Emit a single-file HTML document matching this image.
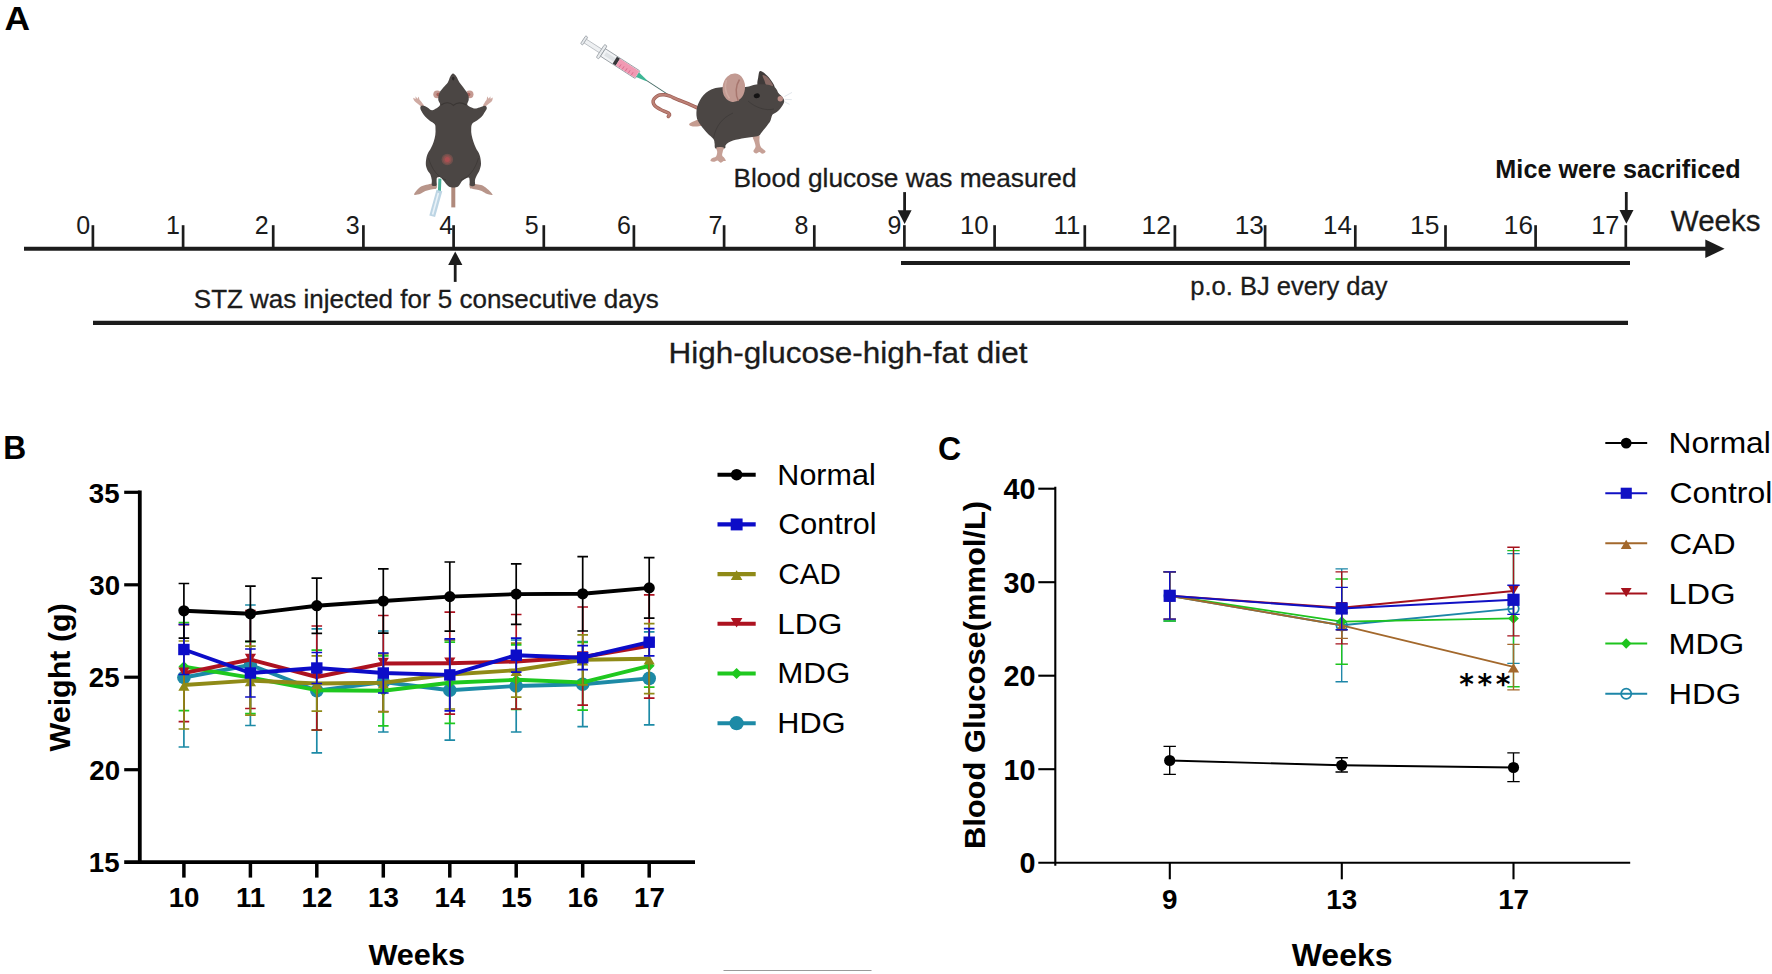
<!DOCTYPE html>
<html lang="en"><head><meta charset="utf-8"><title>Figure</title>
<style>
html,body{margin:0;padding:0;background:#fff;}
body{width:1772px;height:974px;overflow:hidden;}
svg{display:block;}
text{font-family:"Liberation Sans", Arial, Helvetica, sans-serif;fill:#111;}
.tl{font-size:25px;fill:#1a1a1a;}
.b{font-weight:bold;fill:#000;}
</style></head><body>
<svg width="1772" height="974" viewBox="0 0 1772 974">
<rect x="0" y="0" width="1772" height="974" fill="#ffffff"/>
<text transform="translate(4.52,29.90) scale(1.0719,1)" font-size="33.00" font-weight="bold" style="fill:#000">A</text>
<text transform="translate(3.23,459.00) scale(0.9846,1)" font-size="32.30" font-weight="bold" style="fill:#000">B</text>
<text transform="translate(938.02,460.00) scale(0.9570,1)" font-size="33.50" font-weight="bold" style="fill:#000">C</text>
<g stroke="#1c1c1c" fill="none">
<line x1="24" y1="248.8" x2="1708" y2="248.8" stroke-width="4.1"/>
<line x1="901" y1="263" x2="1630" y2="263" stroke-width="3.9"/>
<line x1="93" y1="322.9" x2="1628" y2="322.9" stroke-width="4.2"/>
<line x1="92.9" y1="225.2" x2="92.9" y2="248" stroke-width="2.7"/>
<line x1="183.1" y1="225.2" x2="183.1" y2="248" stroke-width="2.7"/>
<line x1="273.2" y1="225.2" x2="273.2" y2="248" stroke-width="2.7"/>
<line x1="363.4" y1="225.2" x2="363.4" y2="248" stroke-width="2.7"/>
<line x1="453.6" y1="225.2" x2="453.6" y2="248" stroke-width="2.7"/>
<line x1="543.8" y1="225.2" x2="543.8" y2="248" stroke-width="2.7"/>
<line x1="633.9" y1="225.2" x2="633.9" y2="248" stroke-width="2.7"/>
<line x1="724.1" y1="225.2" x2="724.1" y2="248" stroke-width="2.7"/>
<line x1="814.3" y1="225.2" x2="814.3" y2="248" stroke-width="2.7"/>
<line x1="904.4" y1="225.2" x2="904.4" y2="248" stroke-width="2.7"/>
<line x1="994.6" y1="225.2" x2="994.6" y2="248" stroke-width="2.7"/>
<line x1="1084.8" y1="225.2" x2="1084.8" y2="248" stroke-width="2.7"/>
<line x1="1174.9" y1="225.2" x2="1174.9" y2="248" stroke-width="2.7"/>
<line x1="1265.1" y1="225.2" x2="1265.1" y2="248" stroke-width="2.7"/>
<line x1="1355.3" y1="225.2" x2="1355.3" y2="248" stroke-width="2.7"/>
<line x1="1445.5" y1="225.2" x2="1445.5" y2="248" stroke-width="2.7"/>
<line x1="1535.6" y1="225.2" x2="1535.6" y2="248" stroke-width="2.7"/>
<line x1="1625.8" y1="225.2" x2="1625.8" y2="248" stroke-width="2.7"/>
<line x1="455.2" y1="262" x2="455.2" y2="281.9" stroke-width="2.8"/>
<line x1="904.6" y1="192.1" x2="904.6" y2="212" stroke-width="2.8"/>
<line x1="1626.3" y1="192" x2="1626.3" y2="212" stroke-width="2.8"/>
</g>
<g fill="#1c1c1c">
<polygon points="1705.3,239.6 1724.6,248.8 1705.3,258"/>
<polygon points="455.2,251.4 462.4,265.1 448.2,265.1"/>
<polygon points="904.6,223.9 897.6,210.2 911.6,210.2"/>
<polygon points="1626.4,223.7 1619.5,209.9 1633.5,209.9"/>
</g>
<text x="76.30" y="233.80" font-size="25.00" style="fill:#1b1b1b">0</text>
<text x="165.95" y="233.80" font-size="25.00" style="fill:#1b1b1b">1</text>
<text x="254.77" y="233.80" font-size="25.00" style="fill:#1b1b1b">2</text>
<text x="345.82" y="233.80" font-size="25.00" style="fill:#1b1b1b">3</text>
<text x="439.27" y="233.80" font-size="25.00" style="fill:#1b1b1b">4</text>
<text x="524.83" y="233.80" font-size="25.00" style="fill:#1b1b1b">5</text>
<text x="617.02" y="233.80" font-size="25.00" style="fill:#1b1b1b">6</text>
<text x="708.38" y="233.80" font-size="25.00" style="fill:#1b1b1b">7</text>
<text x="794.52" y="233.80" font-size="25.00" style="fill:#1b1b1b">8</text>
<text x="887.55" y="233.80" font-size="25.00" style="fill:#1b1b1b">9</text>
<text transform="translate(959.96,233.80) scale(1.0320,1)" font-size="25.00" style="fill:#1b1b1b">10</text>
<text transform="translate(1053.57,233.80) scale(1.0317,1)" font-size="25.00" style="fill:#1b1b1b">11</text>
<text transform="translate(1141.61,233.80) scale(1.0599,1)" font-size="25.00" style="fill:#1b1b1b">12</text>
<text transform="translate(1234.73,233.80) scale(1.0492,1)" font-size="25.00" style="fill:#1b1b1b">13</text>
<text transform="translate(1322.95,233.80) scale(1.0388,1)" font-size="25.00" style="fill:#1b1b1b">14</text>
<text transform="translate(1410.02,233.80) scale(1.0573,1)" font-size="25.00" style="fill:#1b1b1b">15</text>
<text transform="translate(1503.83,233.80) scale(1.0492,1)" font-size="25.00" style="fill:#1b1b1b">16</text>
<text transform="translate(1591.30,233.80) scale(1.0112,1)" font-size="25.00" style="fill:#1b1b1b">17</text>
<text transform="translate(193.83,307.50) scale(1.0396,1)" font-size="25.00" style="fill:#1b1b1b;stroke:#1b1b1b;stroke-width:0.3px">STZ was injected for 5 consecutive days</text>
<text transform="translate(733.50,186.70) scale(1.0512,1)" font-size="25.00" style="fill:#1b1b1b;stroke:#1b1b1b;stroke-width:0.3px">Blood glucose was measured</text>
<text transform="translate(1190.34,295.00) scale(1.0209,1)" font-size="25.00" style="fill:#1b1b1b;stroke:#1b1b1b;stroke-width:0.3px">p.o. BJ every day</text>
<text transform="translate(668.48,362.80) scale(1.0507,1)" font-size="30.00" style="fill:#1b1b1b;stroke:#1b1b1b;stroke-width:0.3px">High-glucose-high-fat diet</text>
<text transform="translate(1670.85,231.10) scale(0.9844,1)" font-size="30.00" style="fill:#1b1b1b;stroke:#1b1b1b;stroke-width:0.3px">Weeks</text>
<text transform="translate(1495.36,177.50) scale(0.9891,1)" font-size="25.50" font-weight="bold" style="fill:#111">Mice were sacrificed</text>
<g id="mouse1">
<path d="M453.3,185 L453.3,207.4" stroke="#b08a7c" stroke-width="4" fill="none"/>
<path d="M439.9,178.6 L439.4,191" stroke="#46b098" stroke-width="3" fill="none"/>
<path d="M439.4,190.5 L432.2,216.2" stroke="#bdd5e4" stroke-width="6" fill="none"/>
<path d="M438.4,193 L432.6,214.5" stroke="#e9f2f8" stroke-width="1.6" fill="none"/>
<path d="M436.0,183.8 C434.6,183.1 430.4,184.0 428.0,184.4 C425.6,184.8 423.3,185.3 421.5,186.2 C419.7,187.1 418.2,188.6 417.0,190.0 C415.8,191.4 413.9,193.7 414.0,194.5 C414.1,195.3 416.3,194.8 417.5,194.6 C418.7,194.4 419.7,194.0 421.0,193.4 C422.3,192.8 423.7,191.7 425.4,191.0 C427.1,190.3 429.2,189.8 431.0,189.4 C432.8,189.0 435.6,189.5 436.4,188.6 C437.2,187.7 437.4,184.5 436.0,183.8 Z" fill="#b8958a"/>
<path d="M470.0,183.8 C471.0,183.1 474.4,183.9 476.5,184.2 C478.6,184.5 480.7,184.7 482.6,185.6 C484.5,186.5 486.3,187.9 488.0,189.4 C489.7,190.9 492.4,193.6 492.6,194.5 C492.8,195.4 490.2,194.8 489.0,194.6 C487.8,194.4 486.7,193.8 485.4,193.2 C484.1,192.6 482.6,191.4 481.0,190.8 C479.4,190.2 477.8,189.8 476.0,189.4 C474.2,189.0 471.4,189.5 470.4,188.6 C469.4,187.7 469.0,184.5 470.0,183.8 Z" fill="#b8958a"/>
<path d="M421.6,106.6 C420.6,106.3 419.2,104.9 418.0,104.0 C416.8,103.1 415.3,102.0 414.5,101.0 C413.7,100.0 413.1,98.2 413.3,97.9 C413.5,97.6 415.1,99.2 415.5,99.0 C415.9,98.8 415.3,96.6 415.6,96.6 C415.9,96.6 417.0,98.8 417.5,98.8 C418.0,98.8 418.2,96.6 418.6,96.8 C419.0,97.0 419.1,98.9 419.6,99.8 C420.1,100.7 420.8,101.0 421.5,102.0 C422.2,103.0 424.0,105.0 424.0,105.8 C424.0,106.6 422.6,106.9 421.6,106.6 Z" fill="#cfaaa2"/>
<path d="M485.0,106.6 C485.9,106.3 487.3,104.9 488.5,104.0 C489.7,103.1 491.3,102.1 492.0,101.0 C492.7,99.9 492.8,98.0 492.6,97.6 C492.4,97.2 491.0,99.0 490.6,98.8 C490.2,98.6 490.7,96.4 490.4,96.4 C490.1,96.4 489.1,98.6 488.6,98.6 C488.1,98.6 487.7,96.4 487.4,96.6 C487.1,96.8 487.0,98.9 486.6,99.8 C486.2,100.7 485.6,101.0 485.0,102.0 C484.4,103.0 483.0,105.0 483.0,105.8 C483.0,106.6 484.1,106.9 485.0,106.6 Z" fill="#cfaaa2"/>
<circle cx="437.2" cy="94.3" r="3.9" fill="#c59a92"/>
<circle cx="469.6" cy="94.3" r="3.9" fill="#c59a92"/>
<circle cx="438.2" cy="94.6" r="1.8" fill="#a9615a"/>
<circle cx="468.6" cy="94.6" r="1.8" fill="#a9615a"/>
<path d="M453.0,73.6 C454.0,73.6 455.2,75.0 456.3,76.5 C457.4,78.0 458.4,80.8 459.5,82.5 C460.6,84.2 461.9,85.5 463.0,87.0 C464.1,88.5 465.2,89.8 466.1,91.2 C467.0,92.6 468.0,94.0 468.4,95.5 C468.8,97.0 468.9,98.3 468.7,99.9 C468.5,101.5 466.5,103.7 467.4,105.1 C468.3,106.5 471.9,108.0 473.9,108.4 C475.9,108.8 477.7,107.8 479.5,107.4 C481.3,107.0 483.6,105.7 484.8,105.8 C486.0,105.9 486.9,107.1 486.8,108.2 C486.8,109.3 485.3,111.1 484.5,112.5 C483.7,113.9 483.1,115.2 481.8,116.5 C480.6,117.8 478.6,119.3 477.0,120.5 C475.4,121.7 473.2,122.4 472.2,123.8 C471.2,125.2 471.3,127.1 471.2,129.0 C471.1,130.9 471.2,132.8 471.6,135.0 C472.0,137.2 472.8,139.8 473.5,142.0 C474.2,144.2 474.9,145.9 475.9,148.1 C476.9,150.3 478.8,152.4 479.6,155.0 C480.5,157.6 481.0,161.3 481.0,163.8 C481.0,166.3 480.2,168.2 479.6,170.0 C479.0,171.8 478.2,172.6 477.4,174.3 C476.6,176.0 475.4,178.2 475.0,180.0 C474.6,181.8 475.6,184.5 474.8,185.4 C474.0,186.3 470.9,186.4 470.0,185.6 C469.1,184.8 469.9,181.8 469.6,180.5 C469.4,179.2 469.7,177.6 468.5,177.6 C467.3,177.6 464.3,179.1 462.6,180.6 C460.9,182.1 459.9,185.1 458.4,186.3 C456.9,187.5 455.1,187.6 453.4,187.6 C451.7,187.6 450.1,187.5 448.4,186.3 C446.7,185.1 444.7,182.1 443.4,180.6 C442.1,179.1 441.6,177.7 440.6,177.2 C439.6,176.7 437.9,177.0 437.2,177.6 C436.5,178.2 436.7,179.7 436.6,181.0 C436.5,182.3 437.2,184.9 436.4,185.6 C435.6,186.3 432.8,186.3 432.0,185.4 C431.2,184.5 432.1,181.8 431.8,180.0 C431.5,178.2 431.0,176.0 430.3,174.3 C429.6,172.6 428.1,171.8 427.4,170.0 C426.6,168.2 425.8,166.3 425.8,163.8 C425.8,161.3 426.3,157.6 427.2,155.0 C428.1,152.4 429.9,150.3 431.0,148.1 C432.1,145.9 432.9,144.2 433.6,142.0 C434.3,139.8 435.0,137.2 435.3,135.0 C435.6,132.8 435.6,130.8 435.5,129.0 C435.4,127.2 435.7,125.7 434.7,124.3 C433.7,122.9 431.1,121.8 429.5,120.5 C427.9,119.2 426.3,117.8 425.1,116.5 C423.9,115.2 423.0,113.9 422.2,112.5 C421.4,111.1 420.3,109.2 420.3,108.0 C420.3,106.8 421.0,105.7 422.2,105.6 C423.4,105.5 425.8,106.6 427.5,107.4 C429.2,108.2 430.4,110.6 432.5,110.2 C434.6,109.8 438.9,107.0 439.9,105.3 C440.9,103.6 438.5,101.5 438.3,99.9 C438.1,98.3 438.3,97.0 438.6,95.5 C438.9,94.0 439.4,92.6 440.3,91.2 C441.2,89.8 442.6,88.5 443.8,87.0 C445.1,85.5 446.7,84.2 447.8,82.5 C448.9,80.8 449.4,78.0 450.3,76.5 C451.2,75.0 452.0,73.6 453.0,73.6 Z" fill="#4b4644"/>
<path d="M441,105 C446,101.8 450.5,102.6 453.4,105.4 C456.4,102.6 461,101.8 466.5,105" stroke="#3a3634" stroke-width="1.1" fill="none"/>
<path d="M428.5,158 C432,170 438,177 446,180" stroke="#3a3634" stroke-width="0.9" fill="none" opacity="0.8"/>
<path d="M478.5,158 C475,170 469,177 461,180" stroke="#3a3634" stroke-width="0.9" fill="none" opacity="0.8"/>
<ellipse cx="453.2" cy="78.6" rx="1.3" ry="1.8" fill="#2b2827"/>
<circle cx="447.3" cy="159.5" r="5.8" fill="#6f504c"/>
<circle cx="447.3" cy="159.5" r="4.2" fill="#8c524f"/>
<circle cx="447.3" cy="159.5" r="2.5" fill="#ad4f52"/>
</g>
<g id="mouse2">
<g transform="translate(584.2,40.4) rotate(32.79)">
<rect x="-1.3" y="-4.8" width="2.6" height="9.6" rx="1.1" fill="#e6e9ec" stroke="#8f969c" stroke-width="0.7"/>
<rect x="1.3" y="-2.2" width="20" height="4.4" fill="#eef0f2" stroke="#9fa5ab" stroke-width="0.6"/>
<rect x="19.3" y="-7.8" width="3" height="15.6" rx="1.3" fill="#e9ecee" stroke="#8f969c" stroke-width="0.7"/>
<rect x="22.3" y="-4.5" width="41.2" height="9" rx="0.8" fill="#f1f3f5" stroke="#8f969c" stroke-width="0.8"/>
<rect x="25" y="-2" width="11" height="4" fill="#dfe3e6"/>
<rect x="36.4" y="-3.9" width="3.7" height="7.8" fill="#37373a"/>
<rect x="40.1" y="-3.9" width="22.8" height="7.8" fill="#f19ab3"/>
<line x1="44.0" y1="0.2" x2="44.0" y2="3.9" stroke="#d46a8b" stroke-width="0.8"/>
<line x1="47.6" y1="0.2" x2="47.6" y2="3.9" stroke="#d46a8b" stroke-width="0.8"/>
<line x1="51.2" y1="0.2" x2="51.2" y2="3.9" stroke="#d46a8b" stroke-width="0.8"/>
<line x1="54.8" y1="0.2" x2="54.8" y2="3.9" stroke="#d46a8b" stroke-width="0.8"/>
<line x1="58.4" y1="0.2" x2="58.4" y2="3.9" stroke="#d46a8b" stroke-width="0.8"/>
<polygon points="63.5,-2.7 74.4,-0.6 74.4,0.6 63.5,2.7" fill="#3fb796"/>
<line x1="74" y1="0" x2="99" y2="0" stroke="#4a6e68" stroke-width="0.9"/>
</g>
<path d="M697.5,108.0 C695.9,107.3 691.3,105.0 688.0,103.6 C684.7,102.2 680.7,100.8 677.7,99.6 C674.7,98.4 672.2,97.0 670.0,96.2 C667.8,95.4 666.0,95.0 664.3,94.8 C662.5,94.6 660.9,94.7 659.5,95.0 C658.1,95.3 657.1,96.1 656.1,96.9 C655.1,97.7 654.1,98.6 653.6,99.6 C653.1,100.5 653.0,101.6 653.2,102.6 C653.4,103.6 654.0,104.6 654.6,105.4 C655.2,106.2 656.0,106.9 657.1,107.6 C658.2,108.3 659.6,109.1 661.0,109.8 C662.4,110.5 664.0,111.0 665.3,111.6 C666.6,112.2 667.9,112.6 668.6,113.2 C669.3,113.8 669.7,114.5 669.6,115.0 C669.5,115.5 668.5,116.2 668.3,116.5" stroke="#9d5f56" stroke-width="3.5" fill="none" stroke-linecap="round"/>
<path d="M697.5,108.0 C695.9,107.3 691.3,105.0 688.0,103.6 C684.7,102.2 680.7,100.8 677.7,99.6 C674.7,98.4 672.2,97.0 670.0,96.2 C667.8,95.4 666.0,95.0 664.3,94.8 C662.5,94.6 660.9,94.7 659.5,95.0 C658.1,95.3 657.1,96.1 656.1,96.9 C655.1,97.7 654.1,98.6 653.6,99.6 C653.1,100.5 653.0,101.6 653.2,102.6 C653.4,103.6 654.0,104.6 654.6,105.4 C655.2,106.2 656.0,106.9 657.1,107.6 C658.2,108.3 659.6,109.1 661.0,109.8 C662.4,110.5 664.0,111.0 665.3,111.6 C666.6,112.2 667.9,112.6 668.6,113.2 C669.3,113.8 669.7,114.5 669.6,115.0 C669.5,115.5 668.5,116.2 668.3,116.5" stroke="#bd8176" stroke-width="2.1" fill="none" stroke-linecap="round"/>
<path d="M699.0,119.6 C697.7,119.0 695.6,120.5 694.0,121.2 C692.4,121.9 689.7,123.2 689.2,124.0 C688.7,124.8 690.0,125.6 691.0,126.0 C692.0,126.4 693.7,126.6 695.0,126.6 C696.3,126.6 697.8,126.5 699.0,126.2 C700.2,125.9 702.0,126.1 702.0,125.0 C702.0,123.9 700.3,120.2 699.0,119.6 Z" fill="#c59c90"/>
<path d="M752.8,136.0 C752.0,137.2 754.0,140.2 754.5,142.0 C755.0,143.8 755.7,145.5 755.5,147.0 C755.3,148.5 753.3,150.1 753.4,151.2 C753.5,152.3 755.2,153.3 756.2,153.4 C757.2,153.5 758.4,151.9 759.4,152.0 C760.4,152.1 761.5,153.9 762.5,153.8 C763.5,153.7 765.6,152.5 765.6,151.6 C765.6,150.7 763.3,149.5 762.4,148.6 C761.5,147.7 760.9,147.3 760.4,146.0 C759.9,144.7 759.6,142.8 759.4,141.0 C759.2,139.2 760.1,135.8 759.0,135.0 C757.9,134.2 753.5,134.8 752.8,136.0 Z" fill="#c6a096"/>
<path d="M760.2,71.0 C758.7,71.3 758.7,75.2 758.2,77.5 C757.7,79.8 757.1,82.6 757.4,84.5 C757.7,86.4 758.2,88.1 760.0,89.0 C761.8,89.9 765.6,90.2 768.0,90.0 C770.4,89.8 773.7,88.8 774.4,87.5 C775.1,86.2 773.4,84.0 772.2,82.0 C771.0,80.0 769.0,77.3 767.0,75.5 C765.0,73.7 761.7,70.7 760.2,71.0 Z" fill="#403b3a"/>
<path d="M762.6,75.2 C762.2,75.9 763.7,78.8 764.4,80.5 C765.1,82.2 765.2,84.5 766.6,85.5 C768.0,86.5 772.3,87.2 773.0,86.4 C773.7,85.7 771.7,82.6 770.6,81.0 C769.5,79.4 767.9,77.6 766.6,76.6 C765.3,75.6 763.0,74.5 762.6,75.2 Z" fill="#8a6b66"/>
<path d="M696.4,113.1 C696.4,111.3 696.6,109.2 697.0,107.5 C697.4,105.8 697.8,104.6 698.6,102.9 C699.4,101.2 700.4,99.1 701.6,97.4 C702.8,95.7 704.4,94.0 706.0,92.7 C707.6,91.4 709.3,90.3 711.2,89.5 C713.1,88.7 714.8,88.1 717.3,87.7 C719.8,87.3 722.9,87.0 726.0,87.0 C729.1,87.0 732.8,88.0 736.0,88.0 C739.2,88.0 742.8,87.5 745.5,87.1 C748.2,86.7 749.9,85.9 752.0,85.4 C754.1,84.9 755.6,84.4 757.9,84.3 C760.2,84.2 763.4,84.2 766.0,84.6 C768.6,85.0 771.9,85.8 773.7,86.6 C775.5,87.4 775.9,88.5 776.6,89.5 C777.4,90.5 777.5,91.7 778.2,92.7 C778.9,93.7 780.1,94.5 781.0,95.4 C781.9,96.4 782.9,97.5 783.4,98.4 C783.9,99.3 784.2,100.2 784.2,101.0 C784.2,101.8 784.1,102.2 783.7,103.2 C783.3,104.2 782.3,105.7 781.6,106.8 C780.9,107.9 780.2,108.8 779.3,109.7 C778.4,110.6 777.1,111.6 776.0,112.4 C774.9,113.2 773.4,113.5 772.6,114.4 C771.8,115.3 771.8,116.5 771.4,117.6 C771.0,118.7 771.0,119.6 770.3,121.0 C769.6,122.4 768.1,124.3 767.0,125.8 C765.9,127.3 764.5,128.8 763.5,130.0 C762.5,131.2 761.8,132.2 761.0,133.2 C760.2,134.2 760.1,135.2 758.6,135.8 C757.1,136.4 754.5,136.6 752.2,137.0 C749.9,137.4 747.2,137.6 745.0,138.0 C742.8,138.4 740.7,138.8 738.7,139.2 C736.7,139.6 734.7,140.0 733.0,140.6 C731.3,141.2 729.7,141.8 728.5,142.6 C727.3,143.4 726.2,144.3 725.6,145.2 C725.0,146.1 725.9,147.6 725.0,148.2 C724.1,148.8 721.6,148.8 720.0,148.8 C718.4,148.8 716.1,149.1 715.2,148.2 C714.3,147.3 714.9,145.0 714.6,143.5 C714.3,142.0 714.6,140.7 713.4,139.0 C712.2,137.3 709.4,135.4 707.6,133.5 C705.8,131.6 704.0,129.4 702.6,127.7 C701.2,126.0 700.2,124.6 699.2,123.0 C698.2,121.4 697.4,119.9 696.9,118.2 C696.4,116.5 696.4,114.9 696.4,113.1 Z" fill="#4b4644"/>
<path d="M713.5,138 C716,126 722,118 733,113" stroke="#3a3634" stroke-width="0.9" fill="none" opacity="0.7"/>
<path d="M748,101 C756,108 766,111 774,109" stroke="#3a3634" stroke-width="0.9" fill="none" opacity="0.7"/>
<path d="M716.6,147.6 C715.5,148.3 717.3,150.5 717.2,152.0 C717.1,153.5 716.9,155.3 716.0,156.4 C715.1,157.5 712.5,157.6 711.6,158.4 C710.7,159.2 710.1,160.4 710.6,161.0 C711.1,161.6 713.2,161.9 714.4,161.8 C715.6,161.7 716.6,160.4 717.6,160.6 C718.6,160.8 719.6,162.7 720.6,162.8 C721.6,162.9 722.7,161.3 723.6,161.0 C724.5,160.7 725.7,161.3 725.8,160.8 C725.9,160.3 725.0,158.9 724.4,158.0 C723.8,157.1 722.5,156.7 722.2,155.6 C721.9,154.5 722.6,152.8 722.8,151.5 C723.0,150.2 724.6,148.2 723.6,147.6 C722.6,146.9 717.7,146.9 716.6,147.6 Z" fill="#c6a096"/>
<ellipse cx="733.8" cy="87.8" rx="11.2" ry="14.3" transform="rotate(7 733.8 87.8)" fill="#c29a92"/>
<path d="M739.5,79.5 C735.6,85.5 735,94 738.4,101" stroke="#a7766e" stroke-width="1.5" fill="none"/>
<path d="M726.5,80 C724.5,86 725.4,93 729.5,98.5" stroke="#d3b0a8" stroke-width="1.6" fill="none" opacity="0.7"/>
<ellipse cx="756.8" cy="95.7" rx="3.1" ry="2.4" transform="rotate(-15 756.8 95.7)" fill="#151414"/>
<circle cx="780.3" cy="98.8" r="2.7" fill="#bb8d86"/>
<path d="M784.4,96.6 L792,92.4 M784.8,99.4 L791.8,99.6 M784.2,101.6 L789.6,104.4" stroke="#d5dde4" stroke-width="0.7" fill="none"/>
</g>
<g id="chartB">
<g stroke="#000" fill="none" stroke-width="3.8">
<path d="M139.8,490.5 V864"/>
<path d="M124.2,862.2 H695"/>
</g>
<g stroke="#000" fill="none" stroke-width="3.5">
<path d="M124.2,492.3 H140" stroke-width="3.2"/>
<path d="M124.2,584.8 H140" stroke-width="3.2"/>
<path d="M124.2,677.2 H140" stroke-width="3.2"/>
<path d="M124.2,769.7 H140" stroke-width="3.2"/>
<path d="M183.9,862 V877.6"/>
<path d="M250.4,862 V877.6"/>
<path d="M316.8,862 V877.6"/>
<path d="M383.3,862 V877.6"/>
<path d="M449.8,862 V877.6"/>
<path d="M516.2,862 V877.6"/>
<path d="M582.7,862 V877.6"/>
<path d="M649.2,862 V877.6"/>
</g>
<text x="88.85" y="502.50" font-size="27.70" font-weight="bold" style="fill:#000">35</text>
<text x="89.26" y="594.95" font-size="27.70" font-weight="bold" style="fill:#000">30</text>
<text x="88.85" y="687.40" font-size="27.70" font-weight="bold" style="fill:#000">25</text>
<text x="89.26" y="779.85" font-size="27.70" font-weight="bold" style="fill:#000">20</text>
<text x="88.85" y="872.30" font-size="27.70" font-weight="bold" style="fill:#000">15</text>
<text class="b" x="184.1" y="907.1" text-anchor="middle" font-size="27.7">10</text>
<text class="b" x="250.6" y="907.1" text-anchor="middle" font-size="27.7">11</text>
<text class="b" x="317.0" y="907.1" text-anchor="middle" font-size="27.7">12</text>
<text class="b" x="383.5" y="907.1" text-anchor="middle" font-size="27.7">13</text>
<text class="b" x="450.0" y="907.1" text-anchor="middle" font-size="27.7">14</text>
<text class="b" x="516.5" y="907.1" text-anchor="middle" font-size="27.7">15</text>
<text class="b" x="582.9" y="907.1" text-anchor="middle" font-size="27.7">16</text>
<text class="b" x="649.4" y="907.1" text-anchor="middle" font-size="27.7">17</text>
<text transform="translate(368.40,964.70) scale(1.0225,1)" font-size="30.00" font-weight="bold" style="fill:#000">Weeks</text>
<text transform="translate(70,751.5) rotate(-90) translate(0.00,0.00) scale(1.0159,1)" font-size="30.00" font-weight="bold" style="fill:#000">Weight (g)</text>
<g id="B-HDG">
<path d="M183.9,609.5 V747.0 M178.6,609.5 H189.2 M178.6,747.0 H189.2" stroke="#1d8aa6" stroke-width="1.70" fill="none"/>
<path d="M250.4,605.0 V725.5 M245.1,605.0 H255.7 M245.1,725.5 H255.7" stroke="#1d8aa6" stroke-width="1.70" fill="none"/>
<path d="M316.8,628.8 V752.8 M311.5,628.8 H322.1 M311.5,752.8 H322.1" stroke="#1d8aa6" stroke-width="1.70" fill="none"/>
<path d="M383.3,631.0 V732.0 M378.0,631.0 H388.6 M378.0,732.0 H388.6" stroke="#1d8aa6" stroke-width="1.70" fill="none"/>
<path d="M449.8,640.2 V740.2 M444.5,640.2 H455.1 M444.5,740.2 H455.1" stroke="#1d8aa6" stroke-width="1.70" fill="none"/>
<path d="M516.2,640.0 V732.0 M510.9,640.0 H521.5 M510.9,732.0 H521.5" stroke="#1d8aa6" stroke-width="1.70" fill="none"/>
<path d="M582.7,641.7 V726.7 M577.4,641.7 H588.0 M577.4,726.7 H588.0" stroke="#1d8aa6" stroke-width="1.70" fill="none"/>
<path d="M649.2,631.9 V724.9 M643.9,631.9 H654.5 M643.9,724.9 H654.5" stroke="#1d8aa6" stroke-width="1.70" fill="none"/>
<polyline points="183.9,677.5 250.4,665.0 316.8,690.8 383.3,682.0 449.8,690.2 516.2,686.0 582.7,684.2 649.2,678.4" fill="none" stroke="#1d8aa6" stroke-width="3.9" stroke-linejoin="round"/>
<circle cx="183.9" cy="677.5" r="6.8" fill="#1d8aa6"/>
<circle cx="250.4" cy="665.0" r="6.8" fill="#1d8aa6"/>
<circle cx="316.8" cy="690.8" r="6.8" fill="#1d8aa6"/>
<circle cx="383.3" cy="682.0" r="6.8" fill="#1d8aa6"/>
<circle cx="449.8" cy="690.2" r="6.8" fill="#1d8aa6"/>
<circle cx="516.2" cy="686.0" r="6.8" fill="#1d8aa6"/>
<circle cx="582.7" cy="684.2" r="6.8" fill="#1d8aa6"/>
<circle cx="649.2" cy="678.4" r="6.8" fill="#1d8aa6"/>
</g>
<g id="B-MDG">
<path d="M183.9,622.6 V710.6 M178.6,622.6 H189.2 M178.6,710.6 H189.2" stroke="#1fc81f" stroke-width="1.70" fill="none"/>
<path d="M250.4,641.6 V713.6 M245.1,641.6 H255.7 M245.1,713.6 H255.7" stroke="#1fc81f" stroke-width="1.70" fill="none"/>
<path d="M316.8,650.2 V730.2 M311.5,650.2 H322.1 M311.5,730.2 H322.1" stroke="#1fc81f" stroke-width="1.70" fill="none"/>
<path d="M383.3,655.8 V725.8 M378.0,655.8 H388.6 M378.0,725.8 H388.6" stroke="#1fc81f" stroke-width="1.70" fill="none"/>
<path d="M449.8,642.2 V723.4 M444.5,642.2 H455.1 M444.5,723.4 H455.1" stroke="#1fc81f" stroke-width="1.70" fill="none"/>
<path d="M516.2,644.8 V709.4 M510.9,644.8 H521.5 M510.9,709.4 H521.5" stroke="#1fc81f" stroke-width="1.70" fill="none"/>
<path d="M582.7,642.4 V710.2 M577.4,642.4 H588.0 M577.4,710.2 H588.0" stroke="#1fc81f" stroke-width="1.70" fill="none"/>
<path d="M649.2,641.8 V687.2 M643.9,641.8 H654.5 M643.9,687.2 H654.5" stroke="#1fc81f" stroke-width="1.70" fill="none"/>
<polyline points="183.9,666.6 250.4,677.6 316.8,690.2 383.3,690.8 449.8,682.8 516.2,679.8 582.7,682.4 649.2,665.8" fill="none" stroke="#1fc81f" stroke-width="3.9" stroke-linejoin="round"/>
<polygon points="183.9,661.2 189.3,666.6 183.9,672.0 178.5,666.6" fill="#1fc81f"/>
<polygon points="250.4,672.2 255.8,677.6 250.4,683.0 245.0,677.6" fill="#1fc81f"/>
<polygon points="316.8,684.8 322.2,690.2 316.8,695.6 311.4,690.2" fill="#1fc81f"/>
<polygon points="383.3,685.4 388.7,690.8 383.3,696.2 377.9,690.8" fill="#1fc81f"/>
<polygon points="449.8,677.4 455.2,682.8 449.8,688.2 444.4,682.8" fill="#1fc81f"/>
<polygon points="516.2,674.4 521.6,679.8 516.2,685.2 510.9,679.8" fill="#1fc81f"/>
<polygon points="582.7,677.0 588.1,682.4 582.7,687.8 577.3,682.4" fill="#1fc81f"/>
<polygon points="649.2,660.4 654.6,665.8 649.2,671.2 643.8,665.8" fill="#1fc81f"/>
</g>
<g id="B-LDG">
<path d="M183.9,624.7 V721.7 M178.6,624.7 H189.2 M178.6,721.7 H189.2" stroke="#ad1220" stroke-width="1.70" fill="none"/>
<path d="M250.4,610.5 V708.5 M245.1,610.5 H255.7 M245.1,708.5 H255.7" stroke="#ad1220" stroke-width="1.70" fill="none"/>
<path d="M316.8,626.0 V730.0 M311.5,626.0 H322.1 M311.5,730.0 H322.1" stroke="#ad1220" stroke-width="1.70" fill="none"/>
<path d="M383.3,615.5 V711.5 M378.0,615.5 H388.6 M378.0,711.5 H388.6" stroke="#ad1220" stroke-width="1.70" fill="none"/>
<path d="M449.8,612.2 V714.2 M444.5,612.2 H455.1 M444.5,714.2 H455.1" stroke="#ad1220" stroke-width="1.70" fill="none"/>
<path d="M516.2,614.5 V709.0 M510.9,614.5 H521.5 M510.9,709.0 H521.5" stroke="#ad1220" stroke-width="1.70" fill="none"/>
<path d="M582.7,607.0 V705.2 M577.4,607.0 H588.0 M577.4,705.2 H588.0" stroke="#ad1220" stroke-width="1.70" fill="none"/>
<path d="M649.2,594.8 V698.1 M643.9,594.8 H654.5 M643.9,698.1 H654.5" stroke="#ad1220" stroke-width="1.70" fill="none"/>
<polyline points="183.9,673.2 250.4,659.5 316.8,677.0 383.3,663.5 449.8,663.2 516.2,661.5 582.7,657.0 649.2,645.8" fill="none" stroke="#ad1220" stroke-width="3.9" stroke-linejoin="round"/>
<polygon points="183.9,676.9 189.5,667.5 178.3,667.5" fill="#ad1220"/>
<polygon points="250.4,663.2 256.0,653.8 244.8,653.8" fill="#ad1220"/>
<polygon points="316.8,680.7 322.4,671.3 311.2,671.3" fill="#ad1220"/>
<polygon points="383.3,667.2 388.9,657.8 377.7,657.8" fill="#ad1220"/>
<polygon points="449.8,666.9 455.4,657.5 444.2,657.5" fill="#ad1220"/>
<polygon points="516.2,665.2 521.9,655.8 510.6,655.8" fill="#ad1220"/>
<polygon points="582.7,660.7 588.3,651.3 577.1,651.3" fill="#ad1220"/>
<polygon points="649.2,649.5 654.8,640.1 643.6,640.1" fill="#ad1220"/>
</g>
<g id="B-CAD">
<path d="M183.9,641.0 V729.0 M178.6,641.0 H189.2 M178.6,729.0 H189.2" stroke="#8f8a17" stroke-width="1.70" fill="none"/>
<path d="M250.4,646.1 V715.1 M245.1,646.1 H255.7 M245.1,715.1 H255.7" stroke="#8f8a17" stroke-width="1.70" fill="none"/>
<path d="M316.8,655.8 V711.2 M311.5,655.8 H322.1 M311.5,711.2 H322.1" stroke="#8f8a17" stroke-width="1.70" fill="none"/>
<path d="M383.3,653.8 V711.8 M378.0,653.8 H388.6 M378.0,711.8 H388.6" stroke="#8f8a17" stroke-width="1.70" fill="none"/>
<path d="M449.8,640.0 V709.0 M444.5,640.0 H455.1 M444.5,709.0 H455.1" stroke="#8f8a17" stroke-width="1.70" fill="none"/>
<path d="M516.2,643.2 V697.2 M510.9,643.2 H521.5 M510.9,697.2 H521.5" stroke="#8f8a17" stroke-width="1.70" fill="none"/>
<path d="M582.7,634.8 V684.8 M577.4,634.8 H588.0 M577.4,684.8 H588.0" stroke="#8f8a17" stroke-width="1.70" fill="none"/>
<path d="M649.2,623.7 V693.7 M643.9,623.7 H654.5 M643.9,693.7 H654.5" stroke="#8f8a17" stroke-width="1.70" fill="none"/>
<polyline points="183.9,685.0 250.4,680.6 316.8,683.5 383.3,682.8 449.8,674.5 516.2,670.2 582.7,659.8 649.2,658.7" fill="none" stroke="#8f8a17" stroke-width="3.9" stroke-linejoin="round"/>
<polygon points="183.9,681.3 189.5,690.7 178.3,690.7" fill="#8f8a17"/>
<polygon points="250.4,676.9 256.0,686.3 244.8,686.3" fill="#8f8a17"/>
<polygon points="316.8,679.8 322.4,689.2 311.2,689.2" fill="#8f8a17"/>
<polygon points="383.3,679.1 388.9,688.5 377.7,688.5" fill="#8f8a17"/>
<polygon points="449.8,670.8 455.4,680.2 444.2,680.2" fill="#8f8a17"/>
<polygon points="516.2,666.5 521.9,675.9 510.6,675.9" fill="#8f8a17"/>
<polygon points="582.7,656.1 588.3,665.5 577.1,665.5" fill="#8f8a17"/>
<polygon points="649.2,655.0 654.8,664.4 643.6,664.4" fill="#8f8a17"/>
</g>
<g id="B-Control">
<path d="M183.9,624.5 V674.5 M178.6,624.5 H189.2 M178.6,674.5 H189.2" stroke="#0c0cc8" stroke-width="1.70" fill="none"/>
<path d="M250.4,649.0 V697.0 M245.1,649.0 H255.7 M245.1,697.0 H255.7" stroke="#0c0cc8" stroke-width="1.70" fill="none"/>
<path d="M316.8,652.5 V683.5 M311.5,652.5 H322.1 M311.5,683.5 H322.1" stroke="#0c0cc8" stroke-width="1.70" fill="none"/>
<path d="M383.3,653.0 V693.0 M378.0,653.0 H388.6 M378.0,693.0 H388.6" stroke="#0c0cc8" stroke-width="1.70" fill="none"/>
<path d="M449.8,638.9 V710.9 M444.5,638.9 H455.1 M444.5,710.9 H455.1" stroke="#0c0cc8" stroke-width="1.70" fill="none"/>
<path d="M516.2,638.2 V672.2 M510.9,638.2 H521.5 M510.9,672.2 H521.5" stroke="#0c0cc8" stroke-width="1.70" fill="none"/>
<path d="M582.7,645.7 V669.7 M577.4,645.7 H588.0 M577.4,669.7 H588.0" stroke="#0c0cc8" stroke-width="1.70" fill="none"/>
<path d="M649.2,628.6 V655.8 M643.9,628.6 H654.5 M643.9,655.8 H654.5" stroke="#0c0cc8" stroke-width="1.70" fill="none"/>
<polyline points="183.9,649.5 250.4,673.0 316.8,668.0 383.3,673.0 449.8,674.9 516.2,655.2 582.7,657.7 649.2,642.2" fill="none" stroke="#0c0cc8" stroke-width="3.9" stroke-linejoin="round"/>
<rect x="178.2" y="643.8" width="11.4" height="11.4" fill="#0c0cc8"/>
<rect x="244.7" y="667.3" width="11.4" height="11.4" fill="#0c0cc8"/>
<rect x="311.1" y="662.3" width="11.4" height="11.4" fill="#0c0cc8"/>
<rect x="377.6" y="667.3" width="11.4" height="11.4" fill="#0c0cc8"/>
<rect x="444.1" y="669.2" width="11.4" height="11.4" fill="#0c0cc8"/>
<rect x="510.6" y="649.5" width="11.4" height="11.4" fill="#0c0cc8"/>
<rect x="577.0" y="652.0" width="11.4" height="11.4" fill="#0c0cc8"/>
<rect x="643.5" y="636.5" width="11.4" height="11.4" fill="#0c0cc8"/>
</g>
<g id="B-Normal">
<path d="M183.9,583.5 V638.1 M178.6,583.5 H189.2 M178.6,638.1 H189.2" stroke="#000000" stroke-width="1.70" fill="none"/>
<path d="M250.4,586.2 V641.4 M245.1,586.2 H255.7 M245.1,641.4 H255.7" stroke="#000000" stroke-width="1.70" fill="none"/>
<path d="M316.8,578.1 V633.3 M311.5,578.1 H322.1 M311.5,633.3 H322.1" stroke="#000000" stroke-width="1.70" fill="none"/>
<path d="M383.3,568.9 V633.1 M378.0,568.9 H388.6 M378.0,633.1 H388.6" stroke="#000000" stroke-width="1.70" fill="none"/>
<path d="M449.8,562.0 V631.2 M444.5,562.0 H455.1 M444.5,631.2 H455.1" stroke="#000000" stroke-width="1.70" fill="none"/>
<path d="M516.2,563.8 V624.4 M510.9,563.8 H521.5 M510.9,624.4 H521.5" stroke="#000000" stroke-width="1.70" fill="none"/>
<path d="M582.7,556.6 V631.0 M577.4,556.6 H588.0 M577.4,631.0 H588.0" stroke="#000000" stroke-width="1.70" fill="none"/>
<path d="M649.2,557.6 V618.2 M643.9,557.6 H654.5 M643.9,618.2 H654.5" stroke="#000000" stroke-width="1.70" fill="none"/>
<polyline points="183.9,610.8 250.4,613.8 316.8,605.7 383.3,601.0 449.8,596.6 516.2,594.1 582.7,593.8 649.2,587.9" fill="none" stroke="#000000" stroke-width="3.9" stroke-linejoin="round"/>
<circle cx="183.9" cy="610.8" r="5.6" fill="#000000"/>
<circle cx="250.4" cy="613.8" r="5.6" fill="#000000"/>
<circle cx="316.8" cy="605.7" r="5.6" fill="#000000"/>
<circle cx="383.3" cy="601.0" r="5.6" fill="#000000"/>
<circle cx="449.8" cy="596.6" r="5.6" fill="#000000"/>
<circle cx="516.2" cy="594.1" r="5.6" fill="#000000"/>
<circle cx="582.7" cy="593.8" r="5.6" fill="#000000"/>
<circle cx="649.2" cy="587.9" r="5.6" fill="#000000"/>
</g>
<line x1="717.5" y1="474.7" x2="755.7" y2="474.7" stroke="#000000" stroke-width="4.1"/>
<circle cx="736.6" cy="474.7" r="5.8" fill="#000000"/>
<text transform="translate(777.36,484.60) scale(1.0168,1)" font-size="30.00" style="fill:#000">Normal</text>
<line x1="717.5" y1="524.4" x2="755.7" y2="524.4" stroke="#0c0cc8" stroke-width="4.1"/>
<rect x="730.7" y="518.5" width="11.9" height="11.9" fill="#0c0cc8"/>
<text transform="translate(778.28,534.30) scale(1.0166,1)" font-size="30.00" style="fill:#000">Control</text>
<line x1="717.5" y1="574.1" x2="755.7" y2="574.1" stroke="#8f8a17" stroke-width="4.1"/>
<polygon points="736.6,570.3 742.4,580.0 730.8,580.0" fill="#8f8a17"/>
<text transform="translate(778.32,584.00) scale(0.9876,1)" font-size="30.00" style="fill:#000">CAD</text>
<line x1="717.5" y1="623.8" x2="755.7" y2="623.8" stroke="#ad1220" stroke-width="4.1"/>
<polygon points="736.6,627.6 742.4,617.9 730.8,617.9" fill="#ad1220"/>
<text transform="translate(777.27,633.70) scale(1.0551,1)" font-size="30.00" style="fill:#000">LDG</text>
<line x1="717.5" y1="673.5" x2="755.7" y2="673.5" stroke="#1fc81f" stroke-width="4.1"/>
<polygon points="736.6,667.9 742.2,673.5 736.6,679.1 731.0,673.5" fill="#1fc81f"/>
<text transform="translate(777.29,683.40) scale(1.0443,1)" font-size="30.00" style="fill:#000">MDG</text>
<line x1="717.5" y1="723.2" x2="755.7" y2="723.2" stroke="#1d8aa6" stroke-width="4.1"/>
<circle cx="736.6" cy="723.2" r="7.1" fill="#1d8aa6"/>
<text transform="translate(777.35,733.10) scale(1.0225,1)" font-size="30.00" style="fill:#000">HDG</text>
</g>
<g id="chartC">
<g stroke="#000" fill="none" stroke-width="2.1">
<path d="M1055.3,486.8 V865.8"/>
<path d="M1038.3,862.7 H1630.2"/>
<path d="M1038.3,488.7 H1055.3"/>
<path d="M1038.3,582.2 H1055.3"/>
<path d="M1038.3,675.7 H1055.3"/>
<path d="M1038.3,769.2 H1055.3"/>
<path d="M1169.8,862.7 V879.3"/>
<path d="M1341.8,862.7 V879.3"/>
<path d="M1513.5,862.7 V879.3"/>
</g>
<text x="1003.48" y="499.40" font-size="28.80" font-weight="bold" style="fill:#000">40</text>
<text x="1003.48" y="592.90" font-size="28.80" font-weight="bold" style="fill:#000">30</text>
<text x="1003.48" y="686.40" font-size="28.80" font-weight="bold" style="fill:#000">20</text>
<text x="1003.48" y="779.90" font-size="28.80" font-weight="bold" style="fill:#000">10</text>
<text x="1019.47" y="873.40" font-size="28.80" font-weight="bold" style="fill:#000">0</text>
<text class="b" x="1169.7" y="908.7" text-anchor="middle" font-size="27.8">9</text>
<text class="b" x="1341.8" y="908.7" text-anchor="middle" font-size="27.8">13</text>
<text class="b" x="1513.6" y="908.7" text-anchor="middle" font-size="27.8">17</text>
<text transform="translate(1291.80,966.40) scale(1.0310,1)" font-size="31.00" font-weight="bold" style="fill:#000">Weeks</text>
<text transform="translate(984.8,847.1) rotate(-90) translate(-2.01,0.00) scale(1.0195,1)" font-size="30.30" font-weight="bold" style="fill:#000">Blood Glucose(mmol/L)</text>
<g id="C-HDG">
<path d="M1169.7,571.8 V621.0 M1163.5,571.8 H1175.9 M1163.5,621.0 H1175.9" stroke="#1d86a8" stroke-width="1.35" fill="none"/>
<path d="M1341.7,568.9 V681.7 M1335.5,568.9 H1347.9 M1335.5,681.7 H1347.9" stroke="#1d86a8" stroke-width="1.35" fill="none"/>
<path d="M1513.5,553.6 V663.3 M1507.3,553.6 H1519.7 M1507.3,663.3 H1519.7" stroke="#1d86a8" stroke-width="1.35" fill="none"/>
<polyline points="1169.7,595.8 1341.7,625.3 1513.5,608.6" fill="none" stroke="#1d86a8" stroke-width="1.9" stroke-linejoin="round"/>
<circle cx="1169.7" cy="595.8" r="5.3" fill="none" stroke="#1d86a8" stroke-width="1.7"/>
<circle cx="1341.7" cy="625.3" r="5.3" fill="none" stroke="#1d86a8" stroke-width="1.7"/>
<circle cx="1513.5" cy="608.6" r="5.3" fill="none" stroke="#1d86a8" stroke-width="1.7"/>
</g>
<g id="C-MDG">
<path d="M1169.7,571.8 V621.0 M1163.5,571.8 H1175.9 M1163.5,621.0 H1175.9" stroke="#1ec41e" stroke-width="1.35" fill="none"/>
<path d="M1341.7,579.0 V664.2 M1335.5,579.0 H1347.9 M1335.5,664.2 H1347.9" stroke="#1ec41e" stroke-width="1.35" fill="none"/>
<path d="M1513.5,550.6 V686.7 M1507.3,550.6 H1519.7 M1507.3,686.7 H1519.7" stroke="#1ec41e" stroke-width="1.35" fill="none"/>
<polyline points="1169.7,595.8 1341.7,621.6 1513.5,618.4" fill="none" stroke="#1ec41e" stroke-width="1.9" stroke-linejoin="round"/>
<polygon points="1169.7,590.4 1175.1,595.8 1169.7,601.2 1164.3,595.8" fill="#1ec41e"/>
<polygon points="1341.7,616.2 1347.1,621.6 1341.7,627.0 1336.3,621.6" fill="#1ec41e"/>
<polygon points="1513.5,613.0 1518.9,618.4 1513.5,623.8 1508.1,618.4" fill="#1ec41e"/>
</g>
<g id="C-LDG">
<path d="M1169.7,571.8 V619.1 M1163.5,571.8 H1175.9 M1163.5,619.1 H1175.9" stroke="#a5121c" stroke-width="1.35" fill="none"/>
<path d="M1341.7,571.8 V643.8 M1335.5,571.8 H1347.9 M1335.5,643.8 H1347.9" stroke="#a5121c" stroke-width="1.35" fill="none"/>
<path d="M1513.5,547.2 V635.8 M1507.3,547.2 H1519.7 M1507.3,635.8 H1519.7" stroke="#a5121c" stroke-width="1.35" fill="none"/>
<polyline points="1169.7,595.8 1341.7,607.8 1513.5,591.0" fill="none" stroke="#a5121c" stroke-width="1.9" stroke-linejoin="round"/>
<polygon points="1169.7,599.5 1175.3,590.1 1164.1,590.1" fill="#a5121c"/>
<polygon points="1341.7,611.5 1347.3,602.1 1336.1,602.1" fill="#a5121c"/>
<polygon points="1513.5,594.7 1519.1,585.3 1507.9,585.3" fill="#a5121c"/>
</g>
<g id="C-CAD">
<path d="M1169.7,571.8 V619.1 M1163.5,571.8 H1175.9 M1163.5,619.1 H1175.9" stroke="#a3682c" stroke-width="1.35" fill="none"/>
<path d="M1341.7,612.5 V638.3 M1335.5,612.5 H1347.9 M1335.5,638.3 H1347.9" stroke="#a3682c" stroke-width="1.35" fill="none"/>
<path d="M1513.5,644.3 V689.9 M1507.3,644.3 H1519.7 M1507.3,689.9 H1519.7" stroke="#a3682c" stroke-width="1.35" fill="none"/>
<polyline points="1169.7,595.8 1341.7,625.4 1513.5,666.9" fill="none" stroke="#a3682c" stroke-width="1.9" stroke-linejoin="round"/>
<polygon points="1169.7,592.1 1175.3,601.5 1164.1,601.5" fill="#a3682c"/>
<polygon points="1341.7,621.7 1347.3,631.1 1336.1,631.1" fill="#a3682c"/>
<polygon points="1513.5,663.2 1519.1,672.6 1507.9,672.6" fill="#a3682c"/>
</g>
<g id="C-Control">
<path d="M1169.7,571.8 V619.1 M1163.5,571.8 H1175.9 M1163.5,619.1 H1175.9" stroke="#1010c4" stroke-width="1.35" fill="none"/>
<path d="M1341.7,587.3 V629.7 M1335.5,587.3 H1347.9 M1335.5,629.7 H1347.9" stroke="#1010c4" stroke-width="1.35" fill="none"/>
<path d="M1513.5,585.2 V614.4 M1507.3,585.2 H1519.7 M1507.3,614.4 H1519.7" stroke="#1010c4" stroke-width="1.35" fill="none"/>
<polyline points="1169.7,595.8 1341.7,608.5 1513.5,599.8" fill="none" stroke="#1010c4" stroke-width="1.9" stroke-linejoin="round"/>
<rect x="1163.6" y="589.7" width="12.2" height="12.2" fill="#1010c4"/>
<rect x="1335.6" y="602.4" width="12.2" height="12.2" fill="#1010c4"/>
<rect x="1507.4" y="593.7" width="12.2" height="12.2" fill="#1010c4"/>
</g>
<g id="C-Normal">
<path d="M1169.7,746.4 V774.3 M1163.5,746.4 H1175.9 M1163.5,774.3 H1175.9" stroke="#000000" stroke-width="1.35" fill="none"/>
<path d="M1341.7,757.7 V772.0 M1335.5,757.7 H1347.9 M1335.5,772.0 H1347.9" stroke="#000000" stroke-width="1.35" fill="none"/>
<path d="M1513.5,752.9 V781.6 M1507.3,752.9 H1519.7 M1507.3,781.6 H1519.7" stroke="#000000" stroke-width="1.35" fill="none"/>
<polyline points="1169.7,760.5 1341.7,765.3 1513.5,767.5" fill="none" stroke="#000000" stroke-width="1.9" stroke-linejoin="round"/>
<circle cx="1169.7" cy="760.5" r="5.6" fill="#000000"/>
<circle cx="1341.7" cy="765.3" r="5.6" fill="#000000"/>
<circle cx="1513.5" cy="767.5" r="5.6" fill="#000000"/>
</g>
<text x="1466.7" y="693.5" text-anchor="middle" font-size="28" font-weight="bold" style="font-family:'DejaVu Sans','Liberation Sans',sans-serif;fill:#000">*</text>
<text x="1484.8" y="693.5" text-anchor="middle" font-size="28" font-weight="bold" style="font-family:'DejaVu Sans','Liberation Sans',sans-serif;fill:#000">*</text>
<text x="1503.2" y="693.5" text-anchor="middle" font-size="28" font-weight="bold" style="font-family:'DejaVu Sans','Liberation Sans',sans-serif;fill:#000">*</text>
<line x1="1605.3" y1="443.1" x2="1647.2" y2="443.1" stroke="#000000" stroke-width="2.0"/>
<circle cx="1626.2" cy="443.1" r="5.4" fill="#000000"/>
<text transform="translate(1668.56,453.30) scale(1.0430,1)" font-size="30.40" style="fill:#000">Normal</text>
<line x1="1605.3" y1="493.2" x2="1647.2" y2="493.2" stroke="#1010c4" stroke-width="2.0"/>
<rect x="1620.7" y="487.7" width="11.1" height="11.1" fill="#1010c4"/>
<text transform="translate(1669.51,503.42) scale(1.0488,1)" font-size="30.40" style="fill:#000">Control</text>
<line x1="1605.3" y1="543.3" x2="1647.2" y2="543.3" stroke="#a3682c" stroke-width="2.0"/>
<polygon points="1626.2,539.8 1631.6,548.9 1620.8,548.9" fill="#a3682c"/>
<text transform="translate(1669.54,553.54) scale(1.0285,1)" font-size="30.40" style="fill:#000">CAD</text>
<line x1="1605.3" y1="593.5" x2="1647.2" y2="593.5" stroke="#a5121c" stroke-width="2.0"/>
<polygon points="1626.2,597.0 1631.6,587.9 1620.8,587.9" fill="#a5121c"/>
<text transform="translate(1668.49,603.66) scale(1.0723,1)" font-size="30.40" style="fill:#000">LDG</text>
<line x1="1605.3" y1="643.6" x2="1647.2" y2="643.6" stroke="#1ec41e" stroke-width="2.0"/>
<polygon points="1626.2,638.3 1631.4,643.6 1626.2,648.8 1621.0,643.6" fill="#1ec41e"/>
<text transform="translate(1668.51,653.78) scale(1.0668,1)" font-size="30.40" style="fill:#000">MDG</text>
<line x1="1605.3" y1="693.7" x2="1647.2" y2="693.7" stroke="#1d86a8" stroke-width="2.0"/>
<circle cx="1626.2" cy="693.7" r="5.1" fill="none" stroke="#1d86a8" stroke-width="1.7"/>
<text transform="translate(1668.49,703.90) scale(1.0742,1)" font-size="30.40" style="fill:#000">HDG</text>
</g>
<line x1="723.5" y1="970.5" x2="871.5" y2="970.5" stroke="#9a9a9a" stroke-width="1.2"/>
</svg>
</body></html>
